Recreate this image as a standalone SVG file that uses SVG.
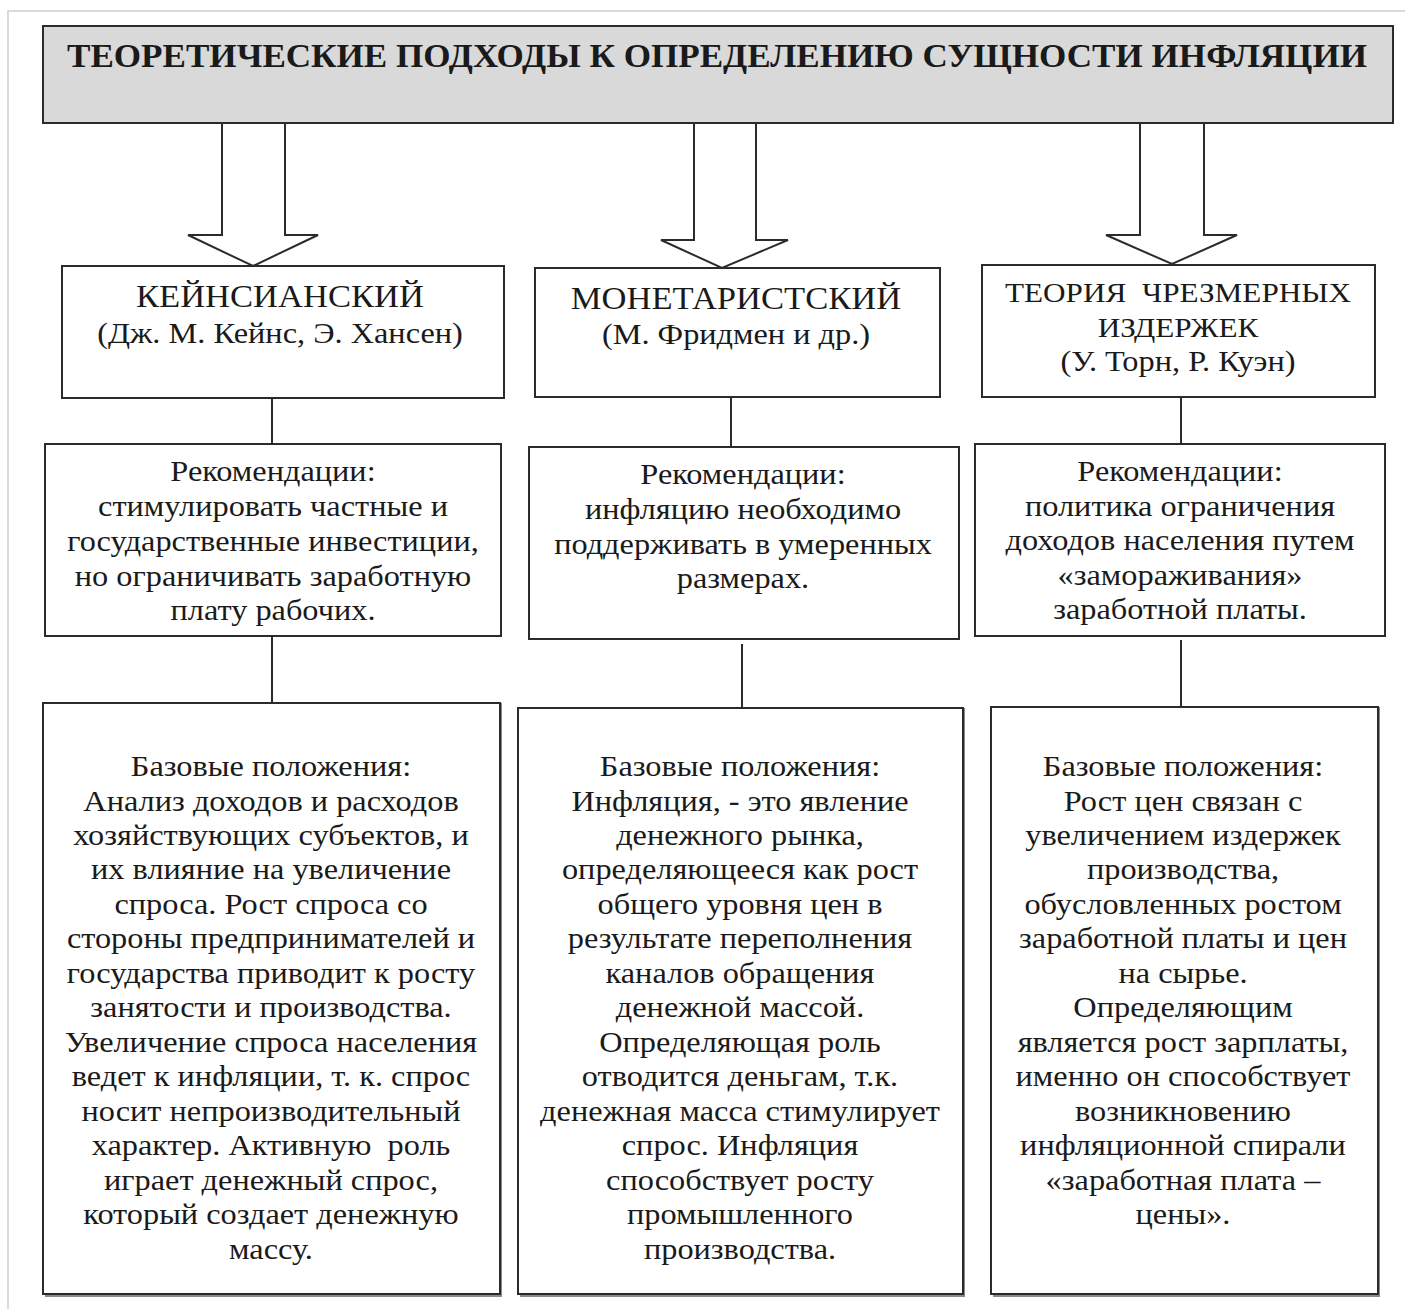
<svg xmlns="http://www.w3.org/2000/svg" width="1405" height="1309" viewBox="0 0 1405 1309">
<style>
.box{fill:#ffffff;stroke:#2b2b2b;stroke-width:2}
.title{fill:#d9d9d9;stroke:#2b2b2b;stroke-width:2}
.arrow{fill:#ffffff;stroke:#2b2b2b;stroke-width:2;stroke-linejoin:miter}
.conn{stroke:#2b2b2b;stroke-width:2;fill:none}
.shadow{fill:#8a8a8a}
text{font-family:'Liberation Serif','DejaVu Serif','Times New Roman',serif;fill:#1a1a1a;text-anchor:middle}
.t{font-size:34px;font-weight:bold;text-anchor:start}
.h{font-size:31px}
.h3{font-size:28px}
.b{font-size:29px}
</style>
<rect x="0" y="0" width="1405" height="1309" fill="#ffffff"/>
<path d="M8 1309 V11 H1405" fill="none" stroke="#d0d0d0" stroke-width="1.5"/>

<g id="title">
<rect class="title" x="43" y="26" width="1350" height="97"/>
<text class="t" x="67" y="67" textLength="1300" lengthAdjust="spacingAndGlyphs">ТЕОРЕТИЧЕСКИЕ ПОДХОДЫ К ОПРЕДЕЛЕНИЮ СУЩНОСТИ ИНФЛЯЦИИ</text>
</g>

<g id="connectors">
<path class="arrow" d="M222 124 V235 H188 L253 266 L318 235 H285 V124"/>
<path class="arrow" d="M694 124 V240 H661 L722 268 L788 240 H756 V124"/>
<path class="arrow" d="M1140 124 V235 H1106 L1172 264 L1237 235 H1204 V124"/>
<line class="conn" x1="272" y1="398" x2="272" y2="444"/>
<line class="conn" x1="272" y1="636" x2="272" y2="703"/>
<line class="conn" x1="731" y1="397" x2="731" y2="447"/>
<line class="conn" x1="742" y1="644" x2="742" y2="708"/>
<line class="conn" x1="1181" y1="397" x2="1181" y2="444"/>
<line class="conn" x1="1181" y1="640" x2="1181" y2="707"/>
</g>

<g id="keynes">
<rect class="box" x="62" y="266" width="442" height="132"/>
<g transform="translate(280 0) scale(1.115 1)">
<text class="h" x="0" y="307">КЕЙНСИАНСКИЙ</text>
<text class="b" x="0" y="343">(Дж. М. Кейнс, Э. Хансен)</text>
</g>
</g>

<g id="monetarist">
<rect class="box" x="535" y="268" width="405" height="129"/>
<g transform="translate(736 0) scale(1.115 1)">
<text class="h" x="0" y="309">МОНЕТАРИСТСКИЙ</text>
<text class="b" x="0" y="344">(М. Фридмен и др.)</text>
</g>
</g>

<g id="costpush">
<rect class="box" x="982" y="265" width="393" height="132"/>
<g transform="translate(1178 0) scale(1.115 1)">
<text class="h3" x="0" y="302" xml:space="preserve">ТЕОРИЯ  ЧРЕЗМЕРНЫХ</text>
<text class="h3" x="0" y="337">ИЗДЕРЖЕК</text>
<text class="b" x="0" y="371">(У. Торн, Р. Куэн)</text>
</g>
</g>

<g id="rec-keynes">
<rect class="box" x="45" y="444" width="456" height="192"/>
<g transform="translate(273 0) scale(1.115 1)">
<text class="b" x="0" y="481">Рекомендации:</text>
<text class="b" x="0" y="516">стимулировать частные и</text>
<text class="b" x="0" y="551">государственные инвестиции,</text>
<text class="b" x="0" y="586">но ограничивать заработную</text>
<text class="b" x="0" y="620">плату рабочих.</text>
</g>
</g>

<g id="rec-monetarist">
<rect class="box" x="529" y="447" width="430" height="192"/>
<g transform="translate(743 0) scale(1.115 1)">
<text class="b" x="0" y="484">Рекомендации:</text>
<text class="b" x="0" y="519">инфляцию необходимо</text>
<text class="b" x="0" y="554">поддерживать в умеренных</text>
<text class="b" x="0" y="588">размерах.</text>
</g>
</g>

<g id="rec-costpush">
<rect class="box" x="975" y="444" width="410" height="192"/>
<g transform="translate(1180 0) scale(1.115 1)">
<text class="b" x="0" y="481">Рекомендации:</text>
<text class="b" x="0" y="516">политика ограничения</text>
<text class="b" x="0" y="550">доходов населения путем</text>
<text class="b" x="0" y="585">«замораживания»</text>
<text class="b" x="0" y="619">заработной платы.</text>
</g>
</g>

<g id="base-keynes">
<rect class="shadow" x="45" y="703" width="457" height="594"/>
<rect class="box" x="43" y="703" width="457" height="591"/>
<g transform="translate(271 0) scale(1.115 1)">
<text class="b" x="0" y="776">Базовые положения:</text>
<text class="b" x="0" y="811">Анализ доходов и расходов</text>
<text class="b" x="0" y="845">хозяйствующих субъектов, и</text>
<text class="b" x="0" y="879">их влияние на увеличение</text>
<text class="b" x="0" y="914">спроса. Рост спроса со</text>
<text class="b" x="0" y="948">стороны предпринимателей и</text>
<text class="b" x="0" y="983">государства приводит к росту</text>
<text class="b" x="0" y="1017">занятости и производства.</text>
<text class="b" x="0" y="1052">Увеличение спроса населения</text>
<text class="b" x="0" y="1086">ведет к инфляции, т. к. спрос</text>
<text class="b" x="0" y="1121">носит непроизводительный</text>
<text class="b" x="0" y="1155" xml:space="preserve">характер. Активную  роль</text>
<text class="b" x="0" y="1190">играет денежный спрос,</text>
<text class="b" x="0" y="1224">который создает денежную</text>
<text class="b" x="0" y="1259">массу.</text>
</g>
</g>

<g id="base-monetarist">
<rect class="shadow" x="520" y="708" width="445" height="589"/>
<rect class="box" x="518" y="708" width="445" height="586"/>
<g transform="translate(740 0) scale(1.115 1)">
<text class="b" x="0" y="776">Базовые положения:</text>
<text class="b" x="0" y="811">Инфляция, - это явление</text>
<text class="b" x="0" y="845">денежного рынка,</text>
<text class="b" x="0" y="879">определяющееся как рост</text>
<text class="b" x="0" y="914">общего уровня цен в</text>
<text class="b" x="0" y="948">результате переполнения</text>
<text class="b" x="0" y="983">каналов обращения</text>
<text class="b" x="0" y="1017">денежной массой.</text>
<text class="b" x="0" y="1052">Определяющая роль</text>
<text class="b" x="0" y="1086">отводится деньгам, т.к.</text>
<text class="b" x="0" y="1121">денежная масса стимулирует</text>
<text class="b" x="0" y="1155">спрос. Инфляция</text>
<text class="b" x="0" y="1190">способствует росту</text>
<text class="b" x="0" y="1224">промышленного</text>
<text class="b" x="0" y="1259">производства.</text>
</g>
</g>

<g id="base-costpush">
<rect class="shadow" x="993" y="707" width="387" height="590"/>
<rect class="box" x="991" y="707" width="387" height="587"/>
<g transform="translate(1183 0) scale(1.115 1)">
<text class="b" x="0" y="776">Базовые положения:</text>
<text class="b" x="0" y="811">Рост цен связан с</text>
<text class="b" x="0" y="845">увеличением издержек</text>
<text class="b" x="0" y="879">производства,</text>
<text class="b" x="0" y="914">обусловленных ростом</text>
<text class="b" x="0" y="948">заработной платы и цен</text>
<text class="b" x="0" y="983">на сырье.</text>
<text class="b" x="0" y="1017">Определяющим</text>
<text class="b" x="0" y="1052">является рост зарплаты,</text>
<text class="b" x="0" y="1086">именно он способствует</text>
<text class="b" x="0" y="1121">возникновению</text>
<text class="b" x="0" y="1155">инфляционной спирали</text>
<text class="b" x="0" y="1190">«заработная плата –</text>
<text class="b" x="0" y="1224">цены».</text>
</g>
</g>
</svg>
